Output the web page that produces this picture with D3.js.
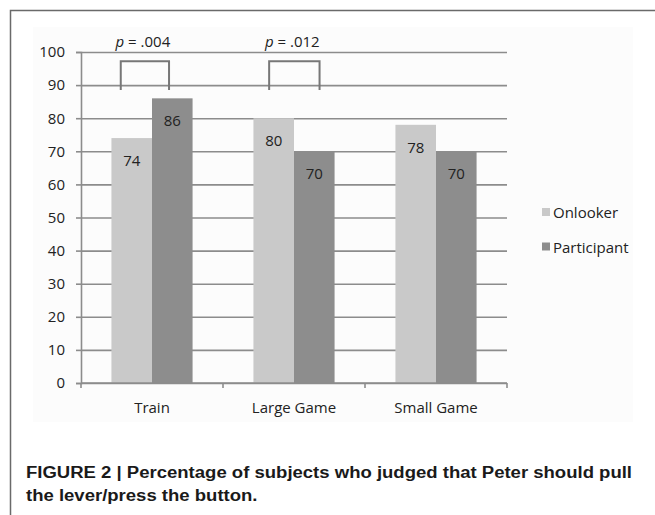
<!DOCTYPE html>
<html>
<head>
<meta charset="utf-8">
<script src="https://cdn.jsdelivr.net/npm/d3@7"></script>
<style>
    body { margin: 0; background: #fff; }
    svg { display: block; }
</style>
</head>
<body>
<div id="chart"></div>
<script>
const categories = ['Train', 'Large Game', 'Small Game'];
const seriesNames = ['Onlooker', 'Participant'];
const onlooker = [74, 80, 78];
const participant = [86, 70, 70];
const yTicks = [0, 10, 20, 30, 40, 50, 60, 70, 80, 90, 100];
const pLabels = ['.004', '.012'];
const captionLines = [
    'FIGURE 2 | Percentage of subjects who judged that Peter should pull',
    'the lever/press the button.'
];

const colors = { Onlooker: '#c9c9c9', Participant: '#8d8d8d' };
const font = '"Open Sans", sans-serif';

function createChart() {
    const width = 655;
    const height = 515;
    const plot = { left: 81, right: 507, top: 52, bottom: 383 };

    const svg = d3.select('#chart').append('svg')
        .attr('width', width).attr('height', height);

    // very faint panel of the pasted chart image
    svg.append('rect').attr('x', 33).attr('y', 27).attr('width', 600).attr('height', 395)
        .attr('fill', '#fcfcfc');

    // outer frame (top and left edges only)
    svg.append('path')
        .attr('d', `M10.5,${height} V10.5 H${width}`)
        .attr('fill', 'none').attr('stroke', '#6a6a6a').attr('stroke-width', 1.5);

    const xScale = d3.scaleBand().domain(categories).range([plot.left, plot.right]);
    const xInner = d3.scaleBand().domain(seriesNames)
        .range([0, xScale.bandwidth()]).paddingOuter(0.75);
    const yScale = d3.scaleLinear().domain([0, 100]).range([plot.bottom, plot.top]);

    // gridlines behind bars
    const grid = svg.append('g').attr('transform', `translate(${plot.left},0)`)
        .call(d3.axisLeft(yScale).tickValues(yTicks).tickFormat('')
            .tickSize(-(plot.right - plot.left)));
    grid.select('.domain').remove();
    grid.selectAll('line').attr('stroke', '#8c8c8c').attr('stroke-width', 1.6);

    const rows = categories.map((c, i) => ({ cat: c, Onlooker: onlooker[i], Participant: participant[i] }));

    const groups = svg.append('g').selectAll('g').data(rows).join('g')
        .attr('transform', (d) => `translate(${xScale(d.cat)},0)`);

    const bars = groups.selectAll('g').data((d) => seriesNames.map((s) => ({ s, v: d[s] }))).join('g');
    bars.append('rect')
        .attr('x', (d) => xInner(d.s))
        .attr('y', (d) => yScale(d.v))
        .attr('width', xInner.bandwidth())
        .attr('height', (d) => yScale(0) - yScale(d.v))
        .attr('fill', (d) => colors[d.s]);
    bars.append('text')
        .attr('x', (d) => xInner(d.s) + xInner.bandwidth() / 2)
        .attr('y', (d) => yScale(d.v) + 28)
        .attr('text-anchor', 'middle')
        .style('font-family', font).style('font-size', '15px').attr('fill', '#222')
        .text((d) => d.v);

    // y axis
    const yAxis = svg.append('g').attr('transform', `translate(${plot.left},0)`)
        .call(d3.axisLeft(yScale).tickValues(yTicks).tickSize(5).tickPadding(11));
    yAxis.select('.domain').attr('stroke', '#8c8c8c').attr('stroke-width', 1.6);
    yAxis.selectAll('line').attr('stroke', '#8c8c8c').attr('stroke-width', 1.6);
    yAxis.selectAll('text').style('font-family', font).style('font-size', '15px').attr('fill', '#222');

    // x axis
    const xAxis = svg.append('g').attr('transform', `translate(0,${plot.bottom})`)
        .call(d3.axisBottom(xScale).tickSize(0).tickPadding(19));
    xAxis.select('.domain').attr('stroke', '#8c8c8c').attr('stroke-width', 1.6)
        .attr('d', `M${plot.left},0H${plot.right}`);
    xAxis.selectAll('text').style('font-family', font).style('font-size', '15px').attr('fill', '#222');
    const bounds = categories.map((c) => xScale(c)).concat([plot.right]);
    xAxis.selectAll('.sep').data(bounds).join('line').attr('class', 'sep')
        .attr('x1', (d) => d).attr('x2', (d) => d).attr('y1', 0).attr('y2', 5)
        .attr('stroke', '#8c8c8c').attr('stroke-width', 1.6);

    // significance brackets
    const brackets = [
        { cat: categories[0], p: pLabels[0], from: 0.28, to: 0.62 },
        { cat: categories[1], p: pLabels[1], from: 0.325, to: 0.68 },
    ];
    brackets.forEach((b) => {
        const x0 = xScale(b.cat) + b.from * xScale.bandwidth();
        const x1 = xScale(b.cat) + b.to * xScale.bandwidth();
        svg.append('path')
            .attr('d', `M${x0},${yScale(88.5)} V${yScale(97.2)} H${x1} V${yScale(88.5)}`)
            .attr('fill', 'none').attr('stroke', '#777').attr('stroke-width', 2);
        const t = svg.append('text')
            .attr('x', (x0 + x1) / 2 - 2).attr('y', 47)
            .attr('text-anchor', 'middle')
            .style('font-family', font).style('font-size', '15px').attr('fill', '#222');
        t.append('tspan').style('font-style', 'italic').text('p');
        t.append('tspan').text(' = ' + b.p);
    });

    // legend
    const legend = svg.append('g').selectAll('g').data(seriesNames).join('g')
        .attr('transform', (d, i) => `translate(542,${208 + i * 34.5})`);
    legend.append('rect').attr('width', 8).attr('height', 8).attr('fill', (d) => colors[d]);
    legend.append('text').attr('x', 11).attr('y', 10)
        .style('font-family', font).style('font-size', '15px').attr('fill', '#222')
        .text((d) => d);

    // caption, condensed bold like the journal style
    const cap = svg.append('g').selectAll('text').data(captionLines).join('text')
        .attr('x', 26).attr('y', (d, i) => 477.5 + i * 23)
        .style('font-family', '"Liberation Sans", Arial, sans-serif')
        .style('font-weight', 'bold').style('font-size', '16px').attr('fill', '#1a1a1a')
        .text((d) => d);
    const natural = cap.nodes().map((n) => n.getComputedTextLength());
    const ratio = 606 / natural[0];
    cap.attr('textLength', (d, i) => natural[i] * ratio).attr('lengthAdjust', 'spacingAndGlyphs');
}

createChart();
</script>
</body>
</html>
